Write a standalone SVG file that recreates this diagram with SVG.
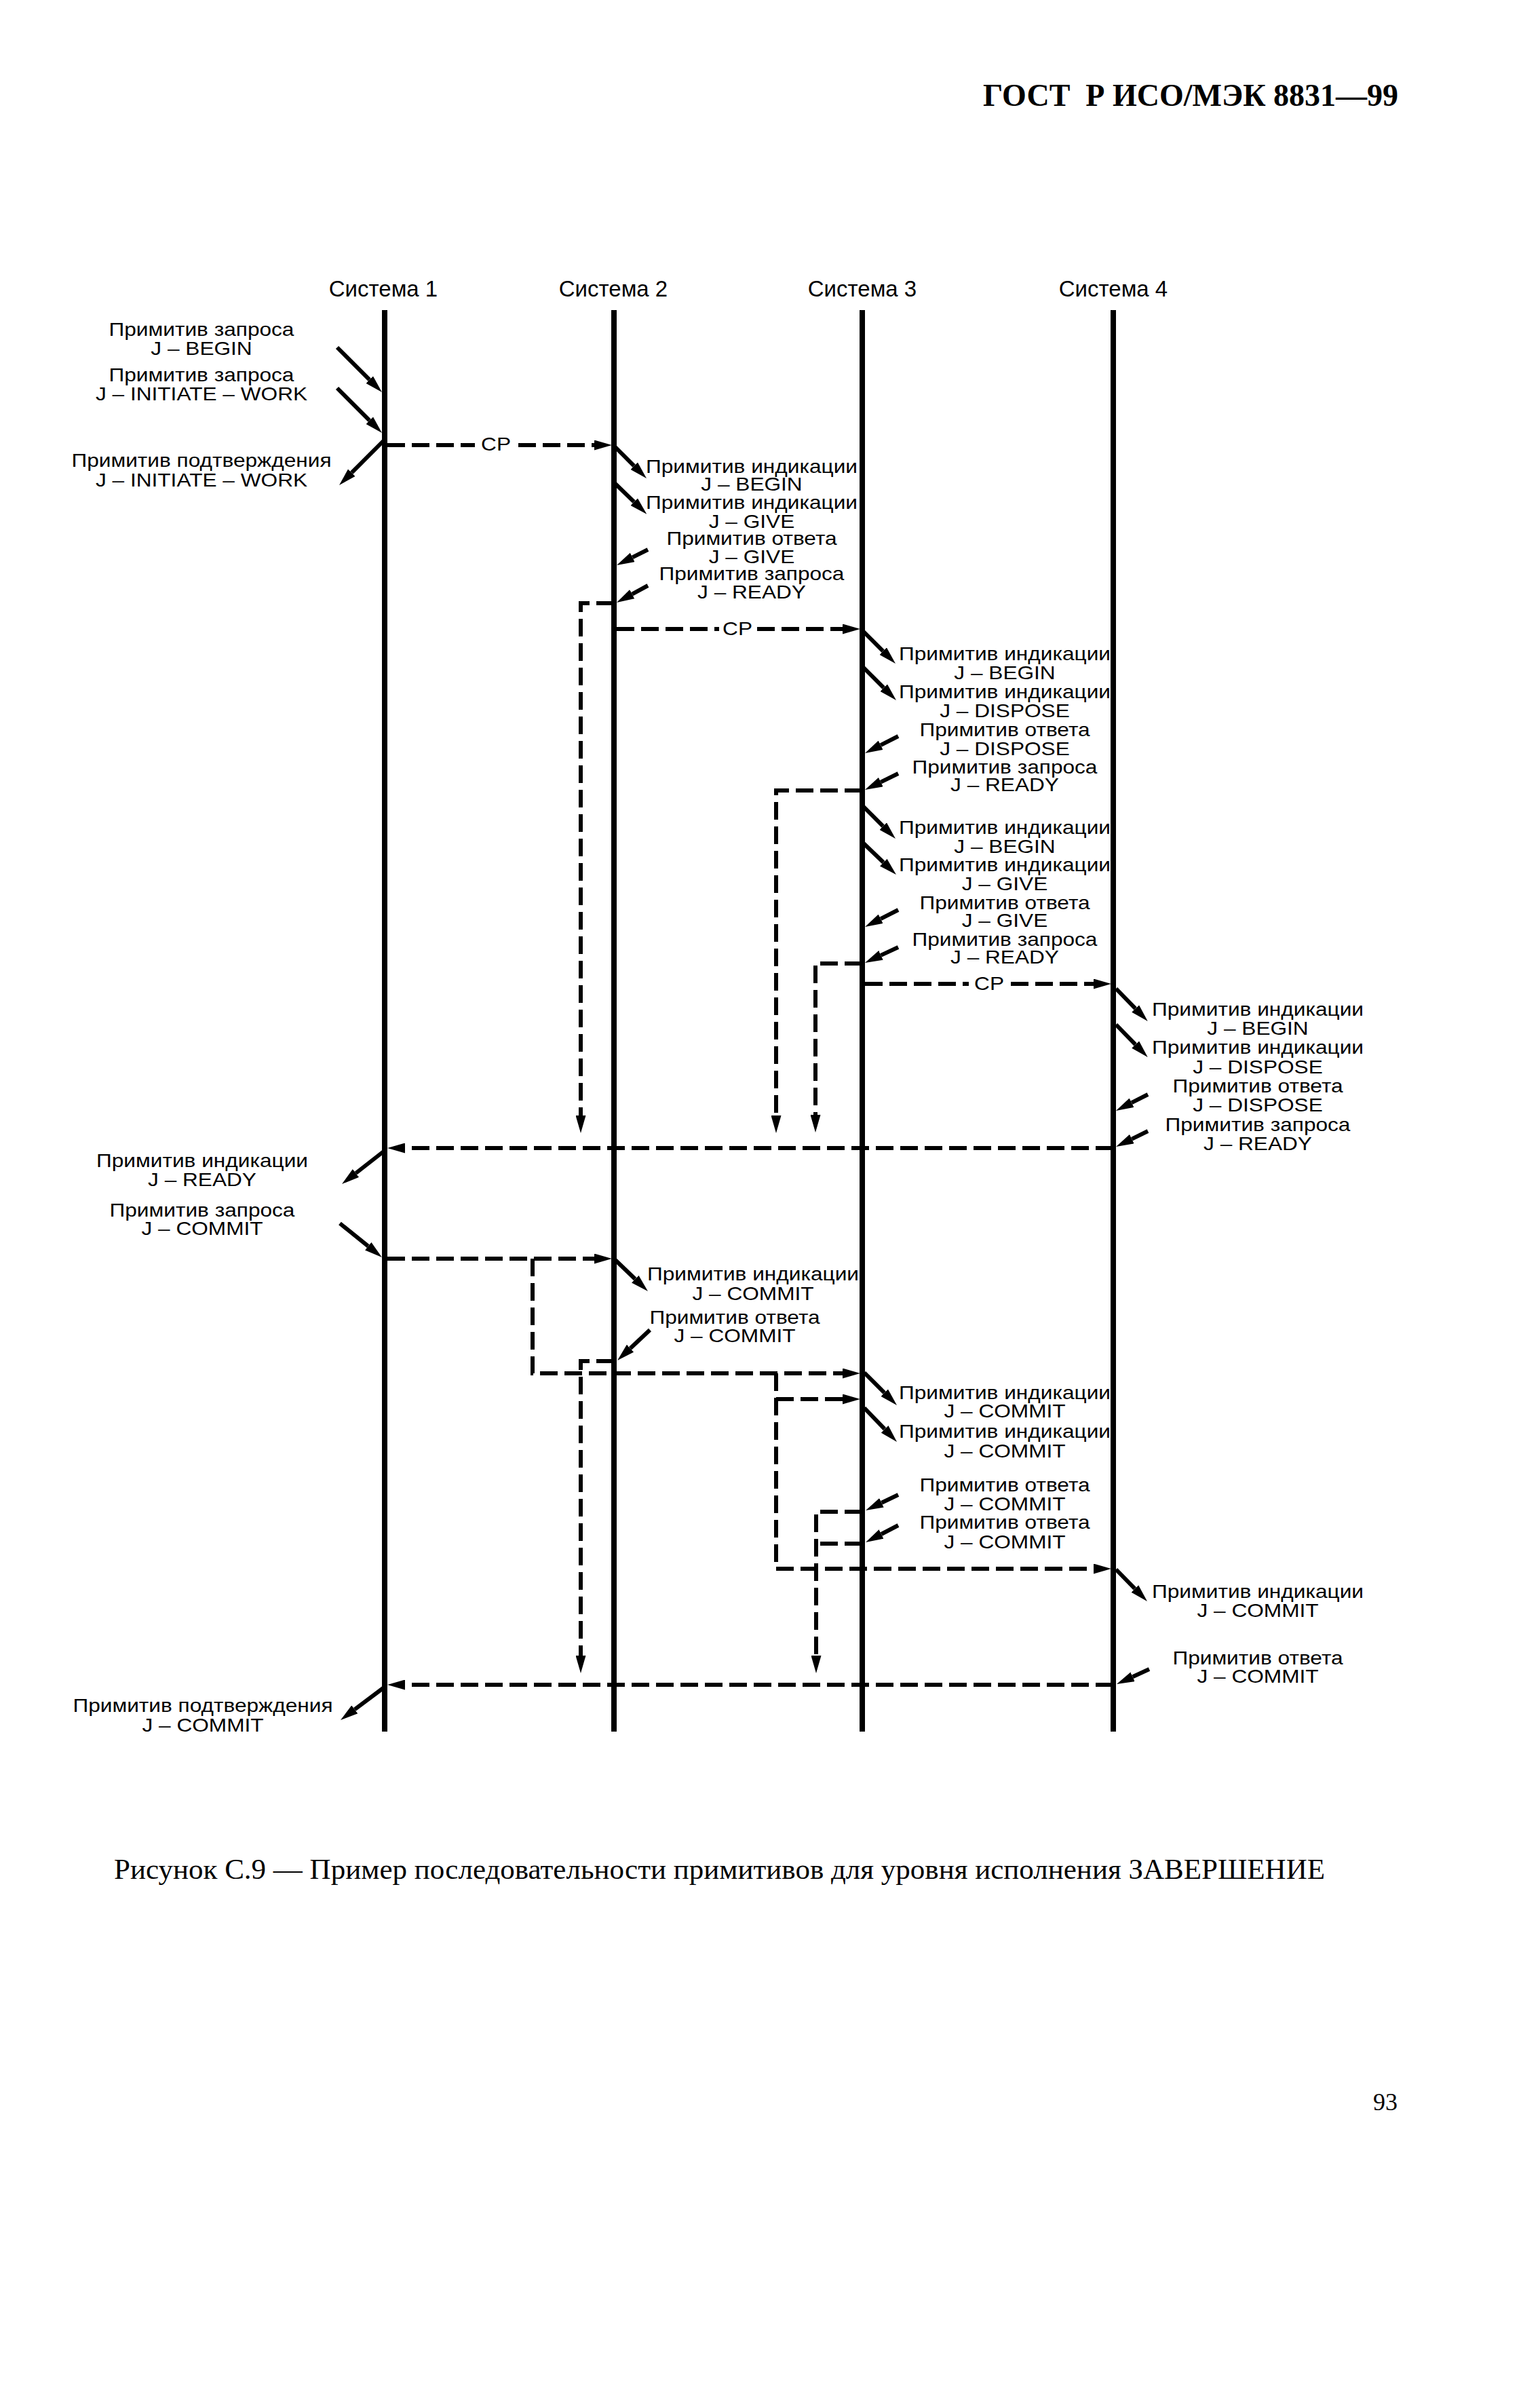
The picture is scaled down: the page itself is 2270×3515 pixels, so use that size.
<svg xmlns="http://www.w3.org/2000/svg" width="2270" height="3515" viewBox="0 0 2270 3515">
<style>
.bg{fill:#fff}
.hd{font-family:"Liberation Sans",Arial,sans-serif;font-size:33px;text-anchor:middle;fill:#000}
.l{font-family:"Liberation Sans",Arial,sans-serif;font-size:28px;text-anchor:middle;fill:#000}
.life{stroke:#000;stroke-width:8;fill:none}
.arr{stroke:#000;stroke-width:6;fill:none;marker-end:url(#as)}
.dash{stroke:#000;stroke-width:6;fill:none;stroke-dasharray:26 10}
.dashA{stroke:#000;stroke-width:6;fill:none;stroke-dasharray:26 10;marker-end:url(#ad)}
.serif{font-family:"Liberation Serif","Times New Roman",serif;fill:#000}
</style>
<defs>
<marker id="as" markerUnits="userSpaceOnUse" viewBox="0 0 26 15" markerWidth="26" markerHeight="15" refX="0" refY="7.5" orient="auto"><path d="M0,0 L26,7.5 L0,15 Z" fill="#000"/></marker>
<marker id="ad" markerUnits="userSpaceOnUse" viewBox="0 0 26 15" markerWidth="26" markerHeight="15" refX="0" refY="7.5" orient="auto"><path d="M0,0 L26,7.5 L0,15 Z" fill="#000"/></marker>
</defs>
<rect class="bg" x="0" y="0" width="2270" height="3515"/>

<text class="serif" x="2061" y="156" font-size="46" font-weight="bold" text-anchor="end">ГОСТ&#160; Р ИСО/МЭК 8831—99</text>

<g id="system1"><text class="hd" x="565" y="437">Система 1</text><line class="life" x1="567" y1="457" x2="567" y2="2552"/></g>
<g id="system2"><text class="hd" x="904" y="437">Система 2</text><line class="life" x1="905" y1="457" x2="905" y2="2552"/></g>
<g id="system3"><text class="hd" x="1271" y="437">Система 3</text><line class="life" x1="1271" y1="457" x2="1271" y2="2552"/></g>
<g id="system4"><text class="hd" x="1641" y="437">Система 4</text><line class="life" x1="1641" y1="457" x2="1641" y2="2552"/></g>

<g id="labels">
<g id="p1"><text class="l" transform="translate(297 495) scale(1.13 1)"><tspan x="0" y="0">Примитив запроса</tspan><tspan x="0" y="28">J – BEGIN</tspan></text></g>
<g id="p2"><text class="l" transform="translate(297 562) scale(1.13 1)"><tspan x="0" y="0">Примитив запроса</tspan><tspan x="0" y="28">J – INITIATE – WORK</tspan></text></g>
<g id="p3"><text class="l" transform="translate(297 688) scale(1.13 1)"><tspan x="0" y="0">Примитив подтверждения</tspan><tspan x="0" y="29">J – INITIATE – WORK</tspan></text></g>
<g id="p4"><text class="l" transform="translate(1108 697) scale(1.13 1)"><tspan x="0" y="0">Примитив индикации</tspan><tspan x="0" y="26">J – BEGIN</tspan></text></g>
<g id="p5"><text class="l" transform="translate(1108 750) scale(1.13 1)"><tspan x="0" y="0">Примитив индикации</tspan><tspan x="0" y="28">J – GIVE</tspan></text></g>
<g id="p6"><text class="l" transform="translate(1108 803) scale(1.13 1)"><tspan x="0" y="0">Примитив ответа</tspan><tspan x="0" y="27">J – GIVE</tspan></text></g>
<g id="p7"><text class="l" transform="translate(1108 855) scale(1.13 1)"><tspan x="0" y="0">Примитив запроса</tspan><tspan x="0" y="27">J – READY</tspan></text></g>
<g id="p8"><text class="l" transform="translate(1481 973) scale(1.13 1)"><tspan x="0" y="0">Примитив индикации</tspan><tspan x="0" y="28">J – BEGIN</tspan></text></g>
<g id="p9"><text class="l" transform="translate(1481 1029) scale(1.13 1)"><tspan x="0" y="0">Примитив индикации</tspan><tspan x="0" y="28">J – DISPOSE</tspan></text></g>
<g id="p10"><text class="l" transform="translate(1481 1085) scale(1.13 1)"><tspan x="0" y="0">Примитив ответа</tspan><tspan x="0" y="28">J – DISPOSE</tspan></text></g>
<g id="p11"><text class="l" transform="translate(1481 1140) scale(1.13 1)"><tspan x="0" y="0">Примитив запроса</tspan><tspan x="0" y="26">J – READY</tspan></text></g>
<g id="p12"><text class="l" transform="translate(1481 1229) scale(1.13 1)"><tspan x="0" y="0">Примитив индикации</tspan><tspan x="0" y="28">J – BEGIN</tspan></text></g>
<g id="p13"><text class="l" transform="translate(1481 1284) scale(1.13 1)"><tspan x="0" y="0">Примитив индикации</tspan><tspan x="0" y="28">J – GIVE</tspan></text></g>
<g id="p14"><text class="l" transform="translate(1481 1340) scale(1.13 1)"><tspan x="0" y="0">Примитив ответа</tspan><tspan x="0" y="26">J – GIVE</tspan></text></g>
<g id="p15"><text class="l" transform="translate(1481 1394) scale(1.13 1)"><tspan x="0" y="0">Примитив запроса</tspan><tspan x="0" y="26">J – READY</tspan></text></g>
<g id="p16"><text class="l" transform="translate(1854 1497) scale(1.13 1)"><tspan x="0" y="0">Примитив индикации</tspan><tspan x="0" y="28">J – BEGIN</tspan></text></g>
<g id="p17"><text class="l" transform="translate(1854 1553) scale(1.13 1)"><tspan x="0" y="0">Примитив индикации</tspan><tspan x="0" y="29">J – DISPOSE</tspan></text></g>
<g id="p18"><text class="l" transform="translate(1854 1610) scale(1.13 1)"><tspan x="0" y="0">Примитив ответа</tspan><tspan x="0" y="28">J – DISPOSE</tspan></text></g>
<g id="p19"><text class="l" transform="translate(1854 1667) scale(1.13 1)"><tspan x="0" y="0">Примитив запроса</tspan><tspan x="0" y="28">J – READY</tspan></text></g>
<g id="p20"><text class="l" transform="translate(298 1720) scale(1.13 1)"><tspan x="0" y="0">Примитив индикации</tspan><tspan x="0" y="28">J – READY</tspan></text></g>
<g id="p21"><text class="l" transform="translate(298 1793) scale(1.13 1)"><tspan x="0" y="0">Примитив запроса</tspan><tspan x="0" y="27">J – COMMIT</tspan></text></g>
<g id="p22"><text class="l" transform="translate(1110 1887) scale(1.13 1)"><tspan x="0" y="0">Примитив индикации</tspan><tspan x="0" y="29">J – COMMIT</tspan></text></g>
<g id="p23"><text class="l" transform="translate(1083 1951) scale(1.13 1)"><tspan x="0" y="0">Примитив ответа</tspan><tspan x="0" y="27">J – COMMIT</tspan></text></g>
<g id="p24"><text class="l" transform="translate(1481 2062) scale(1.13 1)"><tspan x="0" y="0">Примитив индикации</tspan><tspan x="0" y="27">J – COMMIT</tspan></text></g>
<g id="p25"><text class="l" transform="translate(1481 2119) scale(1.13 1)"><tspan x="0" y="0">Примитив индикации</tspan><tspan x="0" y="29">J – COMMIT</tspan></text></g>
<g id="p26"><text class="l" transform="translate(1481 2198) scale(1.13 1)"><tspan x="0" y="0">Примитив ответа</tspan><tspan x="0" y="28">J – COMMIT</tspan></text></g>
<g id="p27"><text class="l" transform="translate(1481 2253) scale(1.13 1)"><tspan x="0" y="0">Примитив ответа</tspan><tspan x="0" y="29">J – COMMIT</tspan></text></g>
<g id="p28"><text class="l" transform="translate(1854 2355) scale(1.13 1)"><tspan x="0" y="0">Примитив индикации</tspan><tspan x="0" y="28">J – COMMIT</tspan></text></g>
<g id="p29"><text class="l" transform="translate(1854 2453) scale(1.13 1)"><tspan x="0" y="0">Примитив ответа</tspan><tspan x="0" y="27">J – COMMIT</tspan></text></g>
<g id="p30"><text class="l" transform="translate(299 2523) scale(1.13 1)"><tspan x="0" y="0">Примитив подтверждения</tspan><tspan x="0" y="29">J – COMMIT</tspan></text></g>
</g>

<g id="connectors">
<!-- primitive arrows -->
<path class="arr" d="M497,512 L544.6,559.6"/>
<path class="arr" d="M497,572 L544.6,619.6"/>
<path class="arr" d="M567,648 L518.4,696.6"/>
<path class="arr" d="M906,658 L934.6,686.6"/>
<path class="arr" d="M906,712 L934.6,739.6"/>
<path class="arr" d="M955,810 L932.3,821.4"/>
<path class="arr" d="M955,863 L931.8,875.6"/>
<path class="arr" d="M1273,931 L1301.6,959.6"/>
<path class="arr" d="M1273,984 L1302.6,1013.6"/>
<path class="arr" d="M1324,1085 L1298.2,1098.2"/>
<path class="arr" d="M1324,1140 L1298.3,1152.6"/>
<path class="arr" d="M1273,1189 L1301.6,1217.6"/>
<path class="arr" d="M1273,1243 L1302.2,1271"/>
<path class="arr" d="M1324,1341 L1298.2,1354.2"/>
<path class="arr" d="M1324,1396 L1298.5,1407.9"/>
<path class="arr" d="M1645,1457 L1673.6,1486.4"/>
<path class="arr" d="M1645,1510 L1673.6,1539.4"/>
<path class="arr" d="M1692,1613 L1668.1,1625.2"/>
<path class="arr" d="M1692,1667 L1668.4,1678.6"/>
<path class="arr" d="M568,1695 L524.5,1729"/>
<path class="arr" d="M501,1803 L542.7,1836.7"/>
<path class="arr" d="M907,1857 L936.2,1885"/>
<path class="arr" d="M958,1960 L929,1987.2"/>
<path class="arr" d="M1274,2023 L1303.6,2052.6"/>
<path class="arr" d="M1274,2075 L1304,2106.2"/>
<path class="arr" d="M1324,2203 L1299.5,2214.8"/>
<path class="arr" d="M1324,2248 L1299.1,2261"/>
<path class="arr" d="M1645,2313 L1672.8,2341.4"/>
<path class="arr" d="M1694,2460 L1669.6,2471.2"/>
<path class="arr" d="M566,2487 L522.8,2519.4"/>

<!-- CP flows -->
<path class="dash" d="M571,656 H700"/>
<text class="l" transform="translate(731 664) scale(1.13 1)">CP</text>
<path class="dashA" d="M764,656 H876"/>
<path class="dash" d="M909,927 H1060"/>
<text class="l" transform="translate(1087 936) scale(1.13 1)">CP</text>
<path class="dashA" d="M1116,927 H1242"/>
<path class="dash" d="M1275,1450 H1428"/>
<text class="l" transform="translate(1458 1459) scale(1.13 1)">CP</text>
<path class="dashA" d="M1490,1450 H1612"/>

<!-- READY flows -->
<path class="dashA" d="M905,889 H856 V1644"/>
<path class="dashA" d="M1271,1165 H1144 V1644"/>
<path class="dashA" d="M1271,1420 H1202 V1643"/>
<path class="dashA" d="M1641,1692 H597"/>

<!-- COMMIT flows -->
<path class="dashA" d="M571,1855 H876"/>
<path class="dashA" d="M785,1855 V2024 H1242"/>
<path class="dashA" d="M1144,2024 V2312 H1612"/>
<path class="dashA" d="M1144,2062 H1242"/>
<path class="dashA" d="M905,2006 H856 V2440"/>
<path class="dashA" d="M1271,2228 H1203 V2440"/>
<path class="dash" d="M1271,2275 H1203"/>
<path class="dashA" d="M1641,2483 H597"/>
</g>

<text class="serif" x="168" y="2769" font-size="43" textLength="1785" lengthAdjust="spacingAndGlyphs">Рисунок С.9 — Пример последовательности примитивов для уровня исполнения ЗАВЕРШЕНИЕ</text>
<text class="serif" x="2024" y="3110" font-size="36">93</text>
</svg>
